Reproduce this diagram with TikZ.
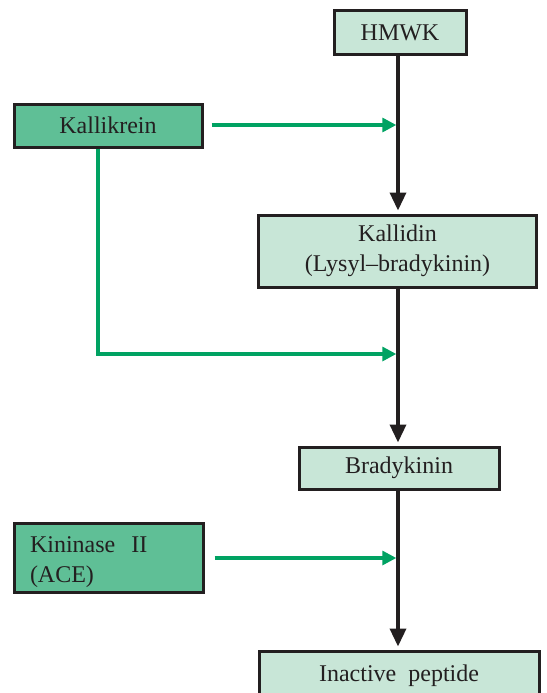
\documentclass[tikz,border=0pt]{standalone}
\usepackage{fontspec}
\setmainfont{Liberation Serif}
\usetikzlibrary{arrows.meta}
\definecolor{PaleMint}{HTML}{C8E6D7}
\definecolor{MintGreen}{HTML}{5FBF96}
\definecolor{LeafGreen}{HTML}{00A262}
\definecolor{InkBlack}{HTML}{231F20}

\begin{document}
\begin{tikzpicture}[x=1pt,y=-1pt,
    stepbox/.style={draw=InkBlack, line width=3pt, fill=PaleMint, inner sep=0pt,
                    font=\fontsize{24}{30}\selectfont, text=InkBlack, align=center},
    enzbox/.style={stepbox, fill=MintGreen},
    flow/.style={draw=InkBlack, line width=3.5pt, shorten >=3pt,
                 -{Triangle[length=18pt,width=16pt]}},
    act/.style={draw=LeafGreen, line width=3.2pt,
                -{Triangle[length=14pt,width=14pt]}}]
  \useasboundingbox (0,0) rectangle (546,693);
  % cascade boxes
  \node[stepbox, minimum width=132pt, minimum height=44pt] (hmwk) at (400,32.5) {HMWK};
  \node[stepbox, minimum width=278pt, minimum height=72pt] (kallidin) at (397.5,251)
       {Kallidin\\(Lysyl--bradykinin)};
  \node[stepbox, minimum width=200pt, minimum height=42pt] (bradykinin) at (399,468) {Bradykinin};
  \node[stepbox, minimum width=280pt, minimum height=50pt] (inactive) at (399,676)
       {Inactive\ \ peptide};
  % enzymes
  \node[enzbox, minimum width=188pt, minimum height=43pt] (kallikrein) at (108,125.5) {Kallikrein};
  \node[enzbox, minimum width=189pt, minimum height=69pt, text width=157pt, align=left]
       (kininase) at (108.5,557.5) {\rule{0pt}{26pt}Kininase\ \ II\\(ACE)};
  % main axis and junctions
  \coordinate (axis) at (398,0);
  \coordinate (j1) at (396.3,125);
  \coordinate (j2) at (396.3,354);
  \coordinate (j3) at (396.3,558);
  \coordinate (bend) at (98,354);
  \draw[flow] (hmwk.south -| axis) -- (kallidin.north -| axis);
  \draw[flow] (kallidin.south -| axis) -- (bradykinin.north -| axis);
  \draw[flow] (bradykinin.south -| axis) -- (inactive.north -| axis);
  % activation arrows
  \draw[act] ([xshift=8pt]kallikrein.east |- j1) -- (j1);
  \draw[act] (kallikrein.south -| bend) -- (bend) -- (j2);
  \draw[act] ([xshift=10pt]kininase.east |- j3) -- (j3);
\end{tikzpicture}
\end{document}
